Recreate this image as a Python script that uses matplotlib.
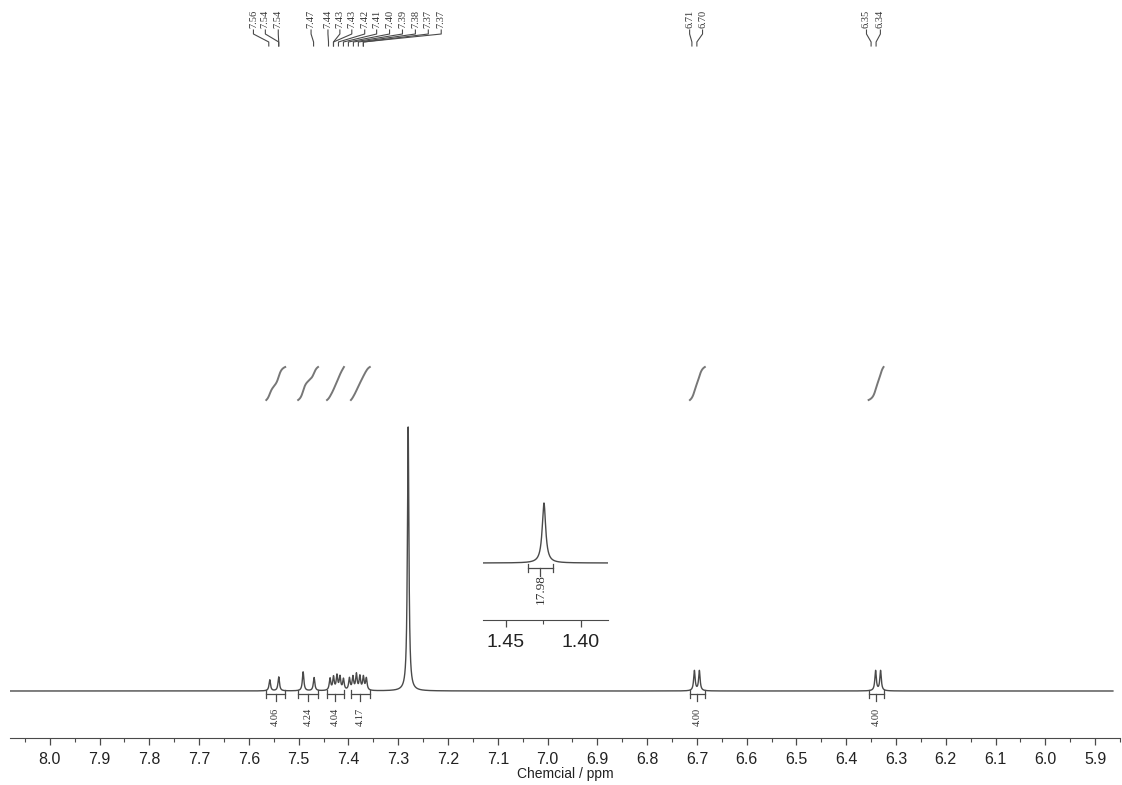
import numpy as np
import matplotlib
matplotlib.use("Agg")
import matplotlib.pyplot as plt

# ---------------- data ----------------
peak_ppm = [7.558, 7.540, 7.491, 7.469,
            7.437, 7.430, 7.423, 7.417, 7.410,
            7.398, 7.391, 7.384, 7.377, 7.370, 7.364,
            7.280,
            6.705, 6.695, 6.341, 6.331]
peak_height = [0.042, 0.053, 0.072, 0.050,
               0.045, 0.050, 0.055, 0.050, 0.042,
               0.045, 0.050, 0.060, 0.052, 0.050, 0.045,
               1.000,
               0.076, 0.076, 0.076, 0.076]

int_start = [7.565, 7.501, 7.443, 7.395, 6.714, 6.355]
int_end = [7.527, 7.461, 7.409, 7.357, 6.684, 6.325]
int_values = ["4.06", "4.24", "4.04", "4.17", "4.00", "4.00"]

label_text = ["7.56", "7.54", "7.54", "7.47", "7.44", "7.43", "7.43", "7.42",
              "7.41", "7.40", "7.39", "7.38", "7.37", "7.37",
              "6.71", "6.70", "6.35", "6.34"]

inset_peak_ppm = [1.4247]
inset_peak_height = [1.0]
inset_int = (1.4353, 1.4187)
inset_int_value = "17.98"

x_ticks = [8.0, 7.9, 7.8, 7.7, 7.6, 7.5, 7.4, 7.3, 7.2, 7.1, 7.0, 6.9, 6.8,
           6.7, 6.6, 6.5, 6.4, 6.3, 6.2, 6.1, 6.0, 5.9]
inset_ticks = [1.45, 1.40]

# ---------------- layout ----------------
W, H = 1122, 785
fig = plt.figure(figsize=(W / 100, H / 100), dpi=100)

def px2ppm(x):
    return 8.0 - (x - 50) / 501.0

x_left, x_right = px2ppm(10), px2ppm(1120)
base_px, top_px = 691, 427
scale = base_px - top_px
def py2y(p):
    return (base_px - p) / scale

ax = fig.add_axes([10 / W, 1 - 738 / H, 1110 / W, 738 / H])
ax.set_xlim(x_left, x_right)
ax.set_ylim(py2y(738), py2y(0))

line_col = "#4a4a4a"
txt_col = "#333333"

def lorentz(x, centers, heights, hw):
    s = np.zeros_like(x)
    for c, h in zip(centers, heights):
        s += h * hw**2 / ((x - c) ** 2 + hw**2)
    return s

x = np.linspace(x_left, x_right, 30000)
y = lorentz(x, peak_ppm, peak_height, 0.0018)
ax.plot(x, y, color=line_col, lw=1.0)

# integral curves and brackets
for s, e, v in zip(int_start, int_end, int_values):
    xi = np.linspace(s, e, 400)
    sel = [(c, h) for c, h in zip(peak_ppm, peak_height) if e <= c <= s]
    cs = [c for c, _ in sel]
    hs = [h for _, h in sel]
    yi = lorentz(xi, cs, hs, 0.005)
    cum = np.cumsum(yi)
    cum = (cum - cum[0]) / (cum[-1] - cum[0])
    ax.plot(xi, py2y(400) + cum * (py2y(367) - py2y(400)), color="#777777", lw=1.4)
    yb = py2y(694)
    ax.plot([s, e], [yb, yb], color=line_col, lw=0.9)
    for xe in (s, e):
        ax.plot([xe, xe], [py2y(690), py2y(698)], color=line_col, lw=0.9)
    m = (s + e) / 2
    ax.plot([m, m], [yb, py2y(701)], color=line_col, lw=0.9)
    ax.text(m, py2y(717), v, rotation=90, ha="center", va="center",
            fontsize=7.5, family="Liberation Serif", color=txt_col)

# top peak labels
label_px = [255, 267, 280, 313, 330, 342, 354, 367, 379, 392, 405, 418, 431, 444,
            694, 707, 872, 886]
for t, lp in zip(label_text, label_px):
    lx = px2ppm(lp)
    tv = float(t)
    ax.text(lx, py2y(19), t, rotation=90, ha="center", va="center",
            fontsize=7.5, family="Liberation Serif", color=txt_col)
    ax.plot([lx, lx, tv, tv], [py2y(30), py2y(34), py2y(42), py2y(46)],
            color=line_col, lw=0.8)

# axis styling
for sp in ("left", "right", "top"):
    ax.spines[sp].set_visible(False)
ax.spines["bottom"].set_color(line_col)
ax.set_yticks([])
ax.set_xticks(x_ticks)
ax.set_xticklabels([f"{t:.1f}" for t in x_ticks])
ax.set_xticks(np.arange(5.85, 8.1, 0.05), minor=True)
ax.tick_params(axis="x", which="major", direction="out", length=5, width=0.9,
               colors=line_col, labelcolor="#222222", labelsize=11.5, pad=5)
ax.tick_params(axis="x", which="minor", direction="out", length=3, width=0.8,
               colors=line_col)
for lab in ax.get_xticklabels():
    lab.set_family("Liberation Sans")
ax.set_xlabel("Chemcial / ppm", fontsize=10, family="Liberation Sans",
              color="#222222", labelpad=0)

# ---------------- inset ----------------
ia = fig.add_axes([483 / W, 1 - 620 / H, 125 / W, 120 / H])
i_left = 1.45 + (506 - 483) / 1500
i_right = 1.40 - (608 - 581) / 1500
ia.set_xlim(i_left, i_right)
ib, it = 563, 503
isc = ib - it
def iy(p):
    return (ib - p) / isc
ia.set_ylim(iy(620), iy(500))
xx = np.linspace(i_left, i_right, 3000)
yy = lorentz(xx, inset_peak_ppm, inset_peak_height, 0.0014)
ia.plot(xx, yy, color=line_col, lw=1.0)
s, e = inset_int
ia.plot([s, e], [iy(568), iy(568)], color=line_col, lw=0.9)
for xe in (s, e):
    ia.plot([xe, xe], [iy(564), iy(572)], color=line_col, lw=0.9)
ia.plot([(s + e) / 2] * 2, [iy(568), iy(576)], color=line_col, lw=0.9)
ia.text((s + e) / 2, iy(589), inset_int_value, rotation=90, ha="center",
        va="center", fontsize=9.5, family="Liberation Serif", color=txt_col)
for sp in ("left", "right", "top"):
    ia.spines[sp].set_visible(False)
ia.spines["bottom"].set_color(line_col)
ia.set_yticks([])
ia.set_xticks(inset_ticks)
ia.set_xticklabels([f"{t:.2f}" for t in inset_ticks])
ia.set_xticks([1.425], minor=True)
ia.tick_params(axis="x", which="major", direction="out", length=5, width=0.9,
               colors=line_col, labelcolor="#222222", labelsize=14, pad=5)
ia.tick_params(axis="x", which="minor", direction="out", length=3, width=0.8,
               colors=line_col)
for lab in ia.get_xticklabels():
    lab.set_family("Liberation Sans")
ia.patch.set_alpha(0)

fig.savefig("out.png", dpi=100)
